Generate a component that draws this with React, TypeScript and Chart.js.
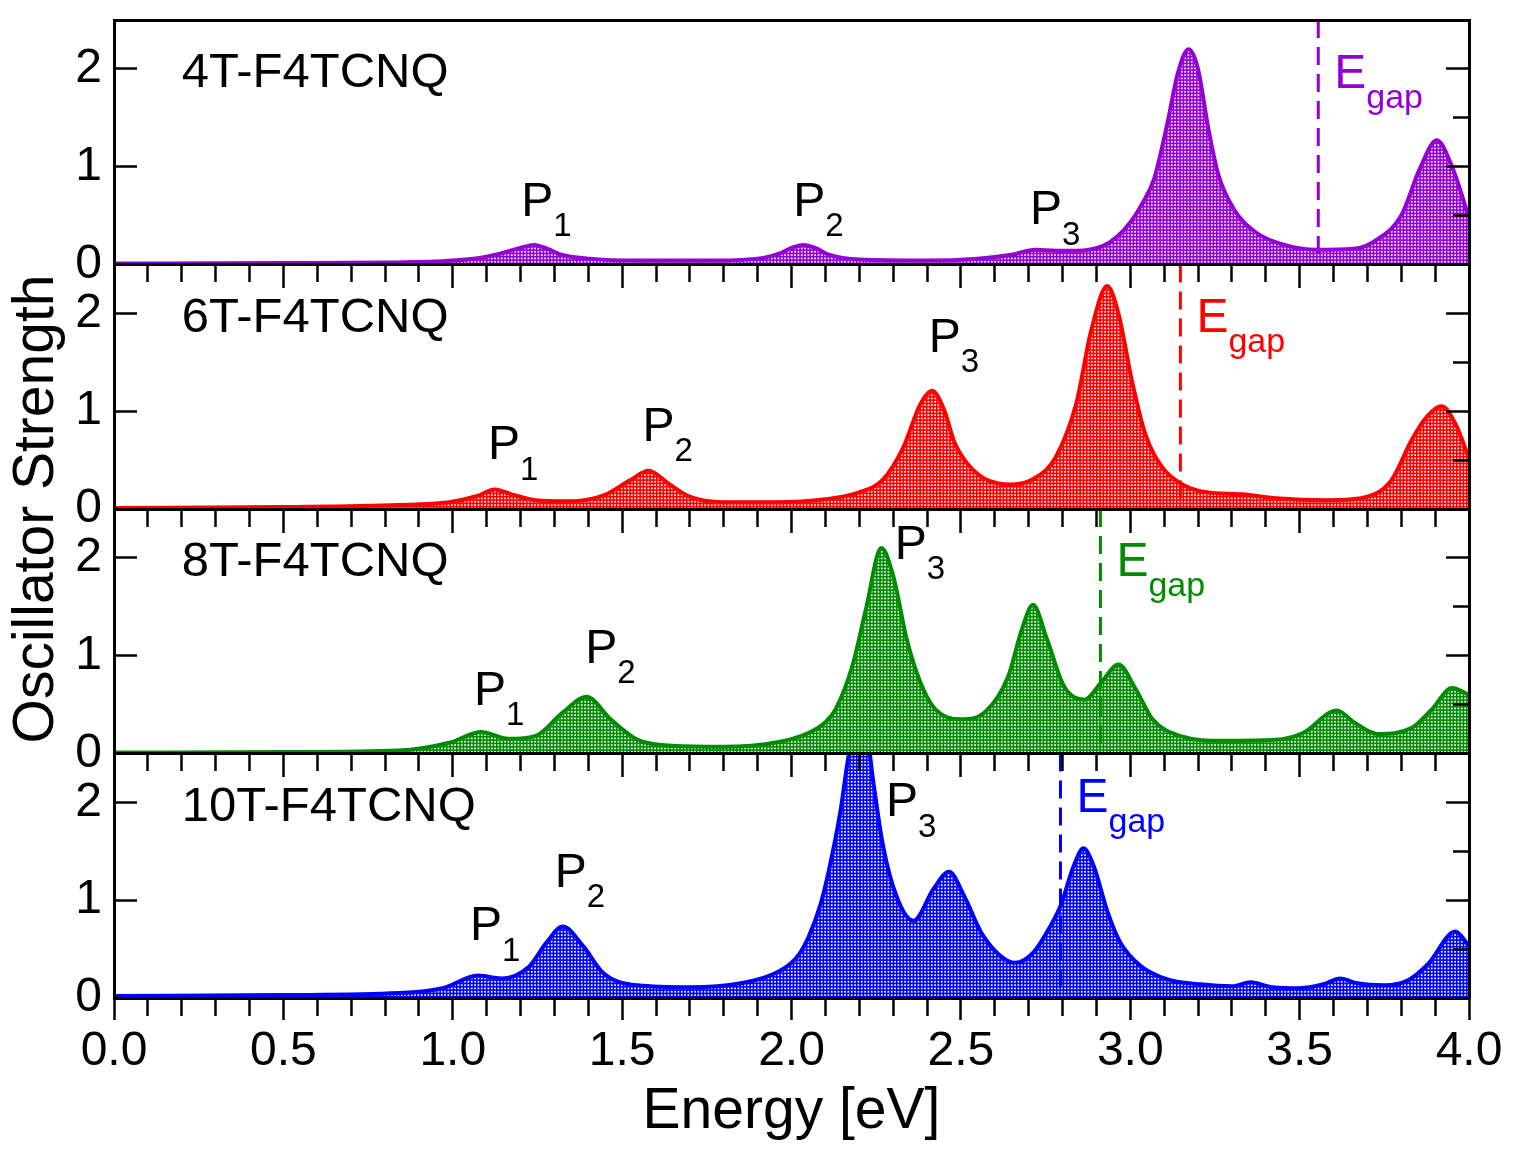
import React, { useEffect, useRef } from 'react';
import { Chart, registerables } from 'chart.js';

Chart.register(...registerables);

// ---------------- data ----------------
const X_MIN = 0;
const X_MAX = 4;
const Y_MAX = 2.5;
const xMajorTicks = [0, 0.5, 1, 1.5, 2, 2.5, 3, 3.5, 4];
const xMinorStep = 0.1;
const yMajorTicks = [0, 1, 2];
const yMinorTicks = [0.5, 1.5];

const panelNames = ['4T-F4TCNQ', '6T-F4TCNQ', '8T-F4TCNQ', '10T-F4TCNQ'];
const panelColors = ['#9400d3', '#ff0000', '#008b00', '#0000ff'];
const egapEnergies = [3.555, 3.148, 2.912, 2.794];

const energy4T = [0, 0.5, 0.8, 1.0, 1.1, 1.16, 1.2, 1.24, 1.28, 1.32, 1.4, 1.55, 1.75, 1.9, 1.97, 2.0, 2.035, 2.07, 2.11, 2.2, 2.4, 2.55, 2.65, 2.72, 2.78, 2.84, 2.92, 2.96, 3.0, 3.035, 3.07, 3.11, 3.14, 3.172, 3.2, 3.23, 3.26, 3.305, 3.37, 3.445, 3.55, 3.66, 3.735, 3.8, 3.855, 3.905, 3.95, 4.0];
const osc4T = [0.01, 0.015, 0.02, 0.04, 0.08, 0.13, 0.17, 0.2, 0.16, 0.1, 0.06, 0.04, 0.04, 0.06, 0.12, 0.17, 0.2, 0.17, 0.1, 0.05, 0.04, 0.06, 0.1, 0.15, 0.14, 0.14, 0.19, 0.28, 0.43, 0.62, 0.87, 1.45, 1.95, 2.2, 2.0, 1.4, 0.92, 0.57, 0.33, 0.21, 0.15, 0.16, 0.27, 0.5, 0.98, 1.27, 1.0, 0.48];

const energy6T = [0, 0.5, 0.84, 0.99, 1.07, 1.124, 1.174, 1.245, 1.345, 1.446, 1.526, 1.578, 1.637, 1.697, 1.8, 1.95, 2.1, 2.2, 2.27, 2.33, 2.38, 2.415, 2.452, 2.48, 2.52, 2.57, 2.65, 2.72, 2.78, 2.84, 2.885, 2.932, 2.965, 3.005, 3.045, 3.096, 3.145, 3.21, 3.33, 3.43, 3.58, 3.68, 3.77, 3.83, 3.87, 3.92, 3.96, 4.0];
const osc6T = [0.01, 0.02, 0.04, 0.07, 0.13, 0.2, 0.15, 0.09, 0.08, 0.14, 0.3, 0.39, 0.26, 0.13, 0.07, 0.07, 0.1, 0.17, 0.3, 0.63, 1.07, 1.21, 1.0, 0.69, 0.46, 0.31, 0.25, 0.32, 0.53, 1.07, 1.83, 2.28, 2.0, 1.31, 0.76, 0.42, 0.27, 0.18, 0.15, 0.11, 0.09, 0.11, 0.29, 0.7, 0.92, 1.05, 0.87, 0.52];

const energy8T = [0, 0.5, 0.84, 0.99, 1.084, 1.164, 1.245, 1.325, 1.395, 1.466, 1.546, 1.647, 1.8, 1.95, 2.05, 2.1, 2.13, 2.18, 2.22, 2.265, 2.3, 2.34, 2.38, 2.42, 2.5, 2.57, 2.64, 2.68, 2.713, 2.754, 2.804, 2.865, 2.915, 2.965, 3.016, 3.066, 3.146, 3.277, 3.428, 3.51, 3.61, 3.66, 3.73, 3.83, 3.89, 3.95, 4.0];
const osc8T = [0.01, 0.015, 0.03, 0.11, 0.22, 0.15, 0.18, 0.42, 0.58, 0.35, 0.14, 0.08, 0.07, 0.11, 0.21, 0.32, 0.45, 0.9, 1.48, 2.1, 1.82, 1.17, 0.73, 0.47, 0.35, 0.42, 0.79, 1.27, 1.52, 1.17, 0.69, 0.55, 0.73, 0.91, 0.66, 0.35, 0.18, 0.13, 0.14, 0.21, 0.44, 0.32, 0.2, 0.26, 0.45, 0.67, 0.6];

const energy10T = [0, 0.5, 0.84, 0.97, 1.074, 1.144, 1.225, 1.275, 1.325, 1.385, 1.446, 1.546, 1.7, 1.85, 1.95, 2.0, 2.025, 2.05, 2.085, 2.11, 2.144, 2.17, 2.2, 2.225, 2.24, 2.27, 2.31, 2.36, 2.42, 2.465, 2.51, 2.56, 2.617, 2.66, 2.715, 2.765, 2.794, 2.833, 2.862, 2.892, 2.933, 2.97, 3.03, 3.11, 3.207, 3.3, 3.355, 3.42, 3.5, 3.57, 3.62, 3.67, 3.75, 3.82, 3.88, 3.96, 4.0];
const osc10T = [0.02, 0.03, 0.05, 0.1, 0.23, 0.2, 0.32, 0.56, 0.73, 0.53, 0.25, 0.13, 0.11, 0.15, 0.25, 0.36, 0.46, 0.62, 0.95, 1.3, 1.9, 2.5, 2.85, 2.65, 2.25, 1.56, 1.04, 0.79, 1.12, 1.29, 1.04, 0.67, 0.43, 0.36, 0.47, 0.74, 0.94, 1.35, 1.53, 1.35, 0.88, 0.57, 0.33, 0.19, 0.14, 0.12, 0.16, 0.11, 0.1, 0.14, 0.2, 0.15, 0.13, 0.18, 0.35, 0.68, 0.53];

const seriesEnergies = [energy4T, energy6T, energy8T, energy10T];
const seriesValues = [osc4T, osc6T, osc8T, osc10T];

// label anchors in data units (energy, oscillator strength) per panel
const peakLabels = [
  [{ e: 1.202, y: 0.5, sub: '1' }, { e: 2.005, y: 0.5, sub: '2' }, { e: 2.704, y: 0.41, sub: '3' }],
  [{ e: 1.104, y: 0.51, sub: '1' }, { e: 1.56, y: 0.7, sub: '2' }, { e: 2.405, y: 1.61, sub: '3' }],
  [{ e: 1.063, y: 0.5, sub: '1' }, { e: 1.391, y: 0.93, sub: '2' }, { e: 2.305, y: 1.99, sub: '3' }],
  [{ e: 1.051, y: 0.59, sub: '1' }, { e: 1.301, y: 1.14, sub: '2' }, { e: 2.279, y: 1.86, sub: '3' }],
];
const panelNamePos = { e: 0.2, y: 1.81 };
const egapLabelY = [1.8, 1.81, 1.81, 1.9];

// ---------------- styling ----------------
const FONT = '"Liberation Sans", Arial, Helvetica, sans-serif';
const W = 1522;
const H = 1168;
const LEFT_W = 114;
const PAD_TOP = 20;
const PAD_RIGHT = 53;
const BOTTOM_H = 170;

const isMajorX = (v: number) => xMajorTicks.some((m) => Math.abs(m - v) < 1e-6);
const isMajorY = (v: number) => yMajorTicks.some((m) => Math.abs(m - v) < 1e-6);

function makePattern(color: string): CanvasPattern | string {
  const c = document.createElement('canvas');
  c.width = 10;
  c.height = 10;
  const g = c.getContext('2d');
  if (!g) return color;
  g.fillStyle = color;
  g.fillRect(0, 0, 10, 10);
  g.fillStyle = '#ffffff';
  const offs = [0.9, 4.23, 7.57];
  for (const ox of offs) for (const oy of offs) g.fillRect(ox, oy, 1.7, 1.7);
  return g.createPattern(c, 'repeat') || color;
}

const zeroPadding = (s: any) => {
  s.paddingTop = 0;
  s.paddingBottom = 0;
  s.paddingLeft = 0;
  s.paddingRight = 0;
};

const annotationPlugin = {
  id: 'panelAnnotations',
  afterDraw(chart: any) {
    const ctx = chart.ctx as CanvasRenderingContext2D;
    const xs = chart.scales.x;
    ctx.save();
    for (let p = 0; p < 4; p++) {
      const ys = chart.scales['y' + (p + 1)];
      // panel name
      ctx.fillStyle = '#000';
      ctx.textAlign = 'left';
      ctx.textBaseline = 'alphabetic';
      ctx.font = `49px ${FONT}`;
      ctx.fillText(panelNames[p], xs.getPixelForValue(panelNamePos.e), ys.getPixelForValue(panelNamePos.y));
      // peak labels P_n
      for (const lab of peakLabels[p]) {
        const px = xs.getPixelForValue(lab.e);
        const py = ys.getPixelForValue(lab.y);
        ctx.font = `48px ${FONT}`;
        ctx.fillText('P', px, py);
        const w = ctx.measureText('P').width;
        ctx.font = `33px ${FONT}`;
        ctx.fillText(lab.sub, px + w, py + 20.5);
      }
      // E_gap label
      const gx = xs.getPixelForValue(egapEnergies[p]) + 16;
      const gy = ys.getPixelForValue(egapLabelY[p]);
      ctx.fillStyle = panelColors[p];
      ctx.font = `48px ${FONT}`;
      ctx.fillText('E', gx, gy);
      const we = ctx.measureText('E').width;
      ctx.font = `34px ${FONT}`;
      ctx.fillText('gap', gx + we, gy + 20);
    }
    // y axis title
    const ca = chart.chartArea;
    ctx.fillStyle = '#000';
    ctx.font = `57px ${FONT}`;
    ctx.textAlign = 'center';
    ctx.textBaseline = 'alphabetic';
    ctx.translate(53, (ca.top + ca.bottom) / 2);
    ctx.rotate(-Math.PI / 2);
    ctx.fillText('Oscillator Strength', 0, 0);
    ctx.restore();
  },
};

export default function App() {
  const ref = useRef<HTMLCanvasElement | null>(null);

  useEffect(() => {
    if (!ref.current) return;
    Chart.defaults.font.family = FONT;

    const datasets: any[] = [];
    for (let p = 0; p < 4; p++) {
      datasets.push({
        type: 'line',
        label: 'Egap ' + panelNames[p],
        data: [
          { x: egapEnergies[p], y: Y_MAX },
          { x: egapEnergies[p], y: 0 },
        ],
        xAxisID: 'x',
        yAxisID: 'y' + (p + 1),
        borderColor: panelColors[p],
        borderWidth: 3,
        borderDash: [18, 9],
        pointRadius: 0,
        fill: false,
        tension: 0,
        order: 0,
        clip: 0,
      });
    }
    for (let p = 0; p < 4; p++) {
      datasets.push({
        type: 'line',
        label: panelNames[p],
        data: seriesEnergies[p].map((e, i) => ({ x: e, y: seriesValues[p][i] })),
        xAxisID: 'x',
        yAxisID: 'y' + (p + 1),
        borderColor: panelColors[p],
        backgroundColor: makePattern(panelColors[p]),
        borderWidth: 4,
        pointRadius: 0,
        fill: 'origin',
        cubicInterpolationMode: 'monotone',
        order: 1,
        clip: 0,
      });
    }

    const yTicks = [...yMajorTicks, ...yMinorTicks].sort((a, b) => a - b);
    const scales: any = {};

    // main bottom x axis with labels
    scales.x = {
      type: 'linear',
      axis: 'x',
      position: 'bottom',
      min: X_MIN,
      max: X_MAX,
      afterFit: (s: any) => {
        s.height = BOTTOM_H;
        zeroPadding(s);
      },
      ticks: {
        stepSize: xMinorStep,
        autoSkip: false,
        maxRotation: 0,
        padding: 3,
        color: '#000',
        font: { size: 48, family: FONT },
        callback: (v: any) => (isMajorX(Number(v)) ? Number(v).toFixed(1) : ''),
      },
      grid: {
        drawOnChartArea: false,
        drawTicks: true,
        tickLength: 22,
        tickWidth: 2.5,
        tickColor: '#000',
        tickBorderDash: (c: any) => (c.tick && isMajorX(c.tick.value) ? [] : [16, 60]),
        z: 1,
      },
      border: { display: true, color: '#000', width: 3, z: 1 },
      title: {
        display: true,
        text: 'Energy [eV]',
        color: '#000',
        font: { size: 57, family: FONT },
        padding: { top: 0, bottom: 22 },
      },
    };

    // boundary x axes between panels (ticks pointing down into the next panel)
    for (let p = 1; p <= 3; p++) {
      scales['xb' + p] = {
        type: 'linear',
        axis: 'x',
        position: { ['y' + p]: 0 },
        min: X_MIN,
        max: X_MAX,
        afterFit: zeroPadding,
        ticks: { display: false, stepSize: xMinorStep },
        grid: {
          drawOnChartArea: false,
          drawTicks: true,
          tickLength: 22,
          tickWidth: 2.5,
          tickColor: '#000',
          tickBorderDash: (c: any) => (c.tick && isMajorX(c.tick.value) ? [] : [16, 60]),
          z: 1,
        },
        border: { display: true, color: '#000', width: 3, z: 1 },
      };
    }
    // top frame line
    scales.xtop = {
      type: 'linear',
      axis: 'x',
      position: { y1: Y_MAX },
      min: X_MIN,
      max: X_MAX,
      afterFit: zeroPadding,
      ticks: { display: false },
      grid: { drawOnChartArea: false, drawTicks: false },
      border: { display: true, color: '#000', width: 3, z: 1 },
    };

    // stacked left y axes (labels + inward ticks)
    for (let p = 1; p <= 4; p++) {
      scales['y' + p] = {
        type: 'linear',
        axis: 'y',
        position: 'left',
        stack: 'left',
        stackWeight: 1,
        weight: 5 - p,
        min: 0,
        max: Y_MAX,
        afterBuildTicks: (s: any) => {
          s.ticks = yTicks.map((v) => ({ value: v }));
        },
        afterFit: (s: any) => {
          s.width = LEFT_W;
          zeroPadding(s);
        },
        ticks: {
          padding: 35,
          color: '#000',
          font: { size: 48, family: FONT },
          callback: (v: any) => (isMajorY(Number(v)) ? String(v) : ''),
        },
        grid: {
          drawOnChartArea: false,
          drawTicks: true,
          tickLength: -23,
          tickWidth: 2.5,
          tickColor: '#000',
          tickBorderDash: (c: any) => (c.tick && isMajorY(c.tick.value) ? [] : [0, 5, 18, 60]),
          z: 1,
        },
        border: { display: true, color: '#000', width: 3, z: 1 },
      };
      // mirrored right y axes (inward ticks only)
      scales['r' + p] = {
        type: 'linear',
        axis: 'y',
        position: 'right',
        stack: 'right',
        stackWeight: 1,
        weight: p,
        min: 0,
        max: Y_MAX,
        afterBuildTicks: (s: any) => {
          s.ticks = yTicks.map((v) => ({ value: v }));
        },
        afterFit: (s: any) => {
          s.width = 0;
          zeroPadding(s);
        },
        ticks: { display: false },
        grid: {
          drawOnChartArea: false,
          drawTicks: true,
          tickLength: -23,
          tickWidth: 2.5,
          tickColor: '#000',
          tickBorderDash: (c: any) => (c.tick && isMajorY(c.tick.value) ? [] : [18, 60]),
          z: 1,
        },
        border: { display: true, color: '#000', width: 3, z: 1 },
      };
    }

    const chart = new Chart(ref.current, {
      type: 'line',
      data: { datasets },
      options: {
        animation: false,
        responsive: false,
        devicePixelRatio: 1,
        layout: { padding: { top: PAD_TOP, right: PAD_RIGHT, bottom: 0, left: 0 } },
        plugins: { legend: { display: false }, tooltip: { enabled: false } },
        events: [],
        scales,
      } as any,
      plugins: [annotationPlugin],
    });
    return () => chart.destroy();
  }, []);

  return (
    <div style={{ position: 'absolute', left: 0, top: 0, width: W, height: H, background: '#fff' }}>
      <canvas ref={ref} width={W} height={H} style={{ display: 'block' }} />
    </div>
  );
}
